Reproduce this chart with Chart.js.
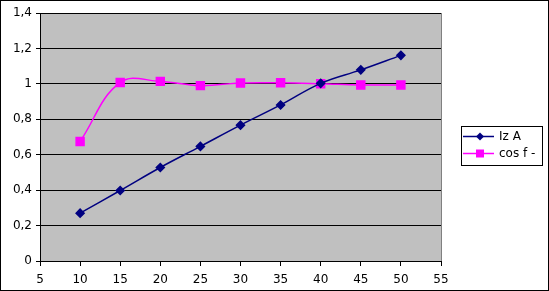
<!DOCTYPE html>
<html>
<head>
<meta charset="utf-8">
<script src="https://cdn.jsdelivr.net/npm/chart.js@4"></script>
<style>
  html, body { margin: 0; padding: 0; background: #fff; }
  canvas { display: block; }
</style>
</head>
<body>
<canvas id="chart" width="549" height="291"></canvas>
<script>
// values
const xValues = [10, 15, 20, 25, 30, 35, 40, 45, 50];
const izA = [0.27, 0.398, 0.528, 0.647, 0.767, 0.881, 1.003, 1.079, 1.161];
const cosF = [0.675, 1.008, 1.014, 0.99, 1.005, 1.006, 1.001, 0.994, 0.994];
const seriesNames = ['Iz A', 'cos f -'];

const toPoints = (ys) => ys.map((y, i) => ({ x: xValues[i], y: y }));
const fmt = (v) => String(Math.round(v * 10) / 10).replace('.', ',');

const frame = {
  id: 'frame',
  beforeDraw(chart) {
    const { ctx, chartArea: a } = chart;
    ctx.save();
    ctx.fillStyle = '#fff';
    ctx.fillRect(0, 0, chart.width, chart.height);
    ctx.fillStyle = '#c0c0c0';
    ctx.fillRect(a.left, a.top, a.right - a.left, a.bottom - a.top);
    ctx.restore();
  },
  afterDraw(chart) {
    const { ctx, chartArea: a } = chart;
    ctx.save();
    // gray right edge of plot
    ctx.strokeStyle = '#808080';
    ctx.lineWidth = 1;
    ctx.beginPath();
    ctx.moveTo(Math.round(a.right) + 0.5, a.top);
    ctx.lineTo(Math.round(a.right) + 0.5, a.bottom);
    ctx.stroke();
    // outer border
    ctx.strokeStyle = '#000';
    ctx.strokeRect(0.5, 0.5, chart.width - 1, chart.height - 1);

    // legend box
    const bx = 461, by = 126, bw = 81, bh = 39;
    ctx.fillStyle = '#fff';
    ctx.fillRect(bx, by, bw, bh);
    ctx.strokeStyle = '#000';
    ctx.strokeRect(bx + 0.5, by + 0.5, bw, bh);
    ctx.font = '12px "DejaVu Sans"';
    ctx.textBaseline = 'middle';
    chart.data.datasets.forEach((ds, i) => {
      const y = by + 10.5 + i * 17;
      ctx.strokeStyle = ds.borderColor;
      ctx.lineWidth = 1.5;
      ctx.beginPath();
      ctx.moveTo(bx + 2, y);
      ctx.lineTo(bx + 33, y);
      ctx.stroke();
      ctx.fillStyle = ds.pointBackgroundColor;
      ctx.beginPath();
      if (ds.pointStyle === 'rectRot') {
        const r = 4;
        ctx.moveTo(bx + 19, y - r);
        ctx.lineTo(bx + 19 + r, y);
        ctx.lineTo(bx + 19, y + r);
        ctx.lineTo(bx + 19 - r, y);
        ctx.closePath();
      } else {
        ctx.rect(bx + 15, y - 4, 8, 8);
      }
      ctx.fill();
      ctx.fillStyle = '#000';
      ctx.fillText(ds.label, bx + 38, y);
    });
    ctx.restore();
  }
};

new Chart(document.getElementById('chart').getContext('2d'), {
  type: 'line',
  data: {
    datasets: [{
      label: seriesNames[0],
      data: toPoints(izA),
      borderColor: '#000080',
      backgroundColor: '#000080',
      pointBackgroundColor: '#000080',
      pointBorderColor: '#000080',
      pointStyle: 'rectRot',
      pointRadius: 4,
      borderWidth: 1.5,
      tension: 0.4
    }, {
      label: seriesNames[1],
      data: toPoints(cosF),
      borderColor: '#ff00ff',
      backgroundColor: '#ff00ff',
      pointBackgroundColor: '#ff00ff',
      pointBorderColor: '#ff00ff',
      pointStyle: 'rect',
      pointRadius: 5.6,
      borderWidth: 1.5,
      tension: 0.4
    }]
  },
  options: {
    responsive: false,
    animation: false,
    layout: { padding: { left: 0, top: 13, right: 108, bottom: 0 } },
    plugins: { legend: { display: false }, tooltip: { enabled: false } },
    scales: {
      x: {
        type: 'linear',
        min: 5, max: 55,
        afterFit(s) { s.height = 30; },
        ticks: { stepSize: 5, color: '#000', padding: 7, font: { family: 'DejaVu Sans', size: 12 } },
        grid: { drawOnChartArea: false, drawTicks: true, tickLength: 5, color: '#000' },
        border: { color: '#000' }
      },
      y: {
        min: 0, max: 1.4,
        afterFit(s) { s.width = 40; },
        ticks: { stepSize: 0.2, color: '#000', padding: 4, callback: fmt, font: { family: 'DejaVu Sans', size: 12 } },
        grid: { color: '#000', tickLength: 4 },
        border: { color: '#000' }
      }
    }
  },
  plugins: [frame]
});
</script>
</body>
</html>
